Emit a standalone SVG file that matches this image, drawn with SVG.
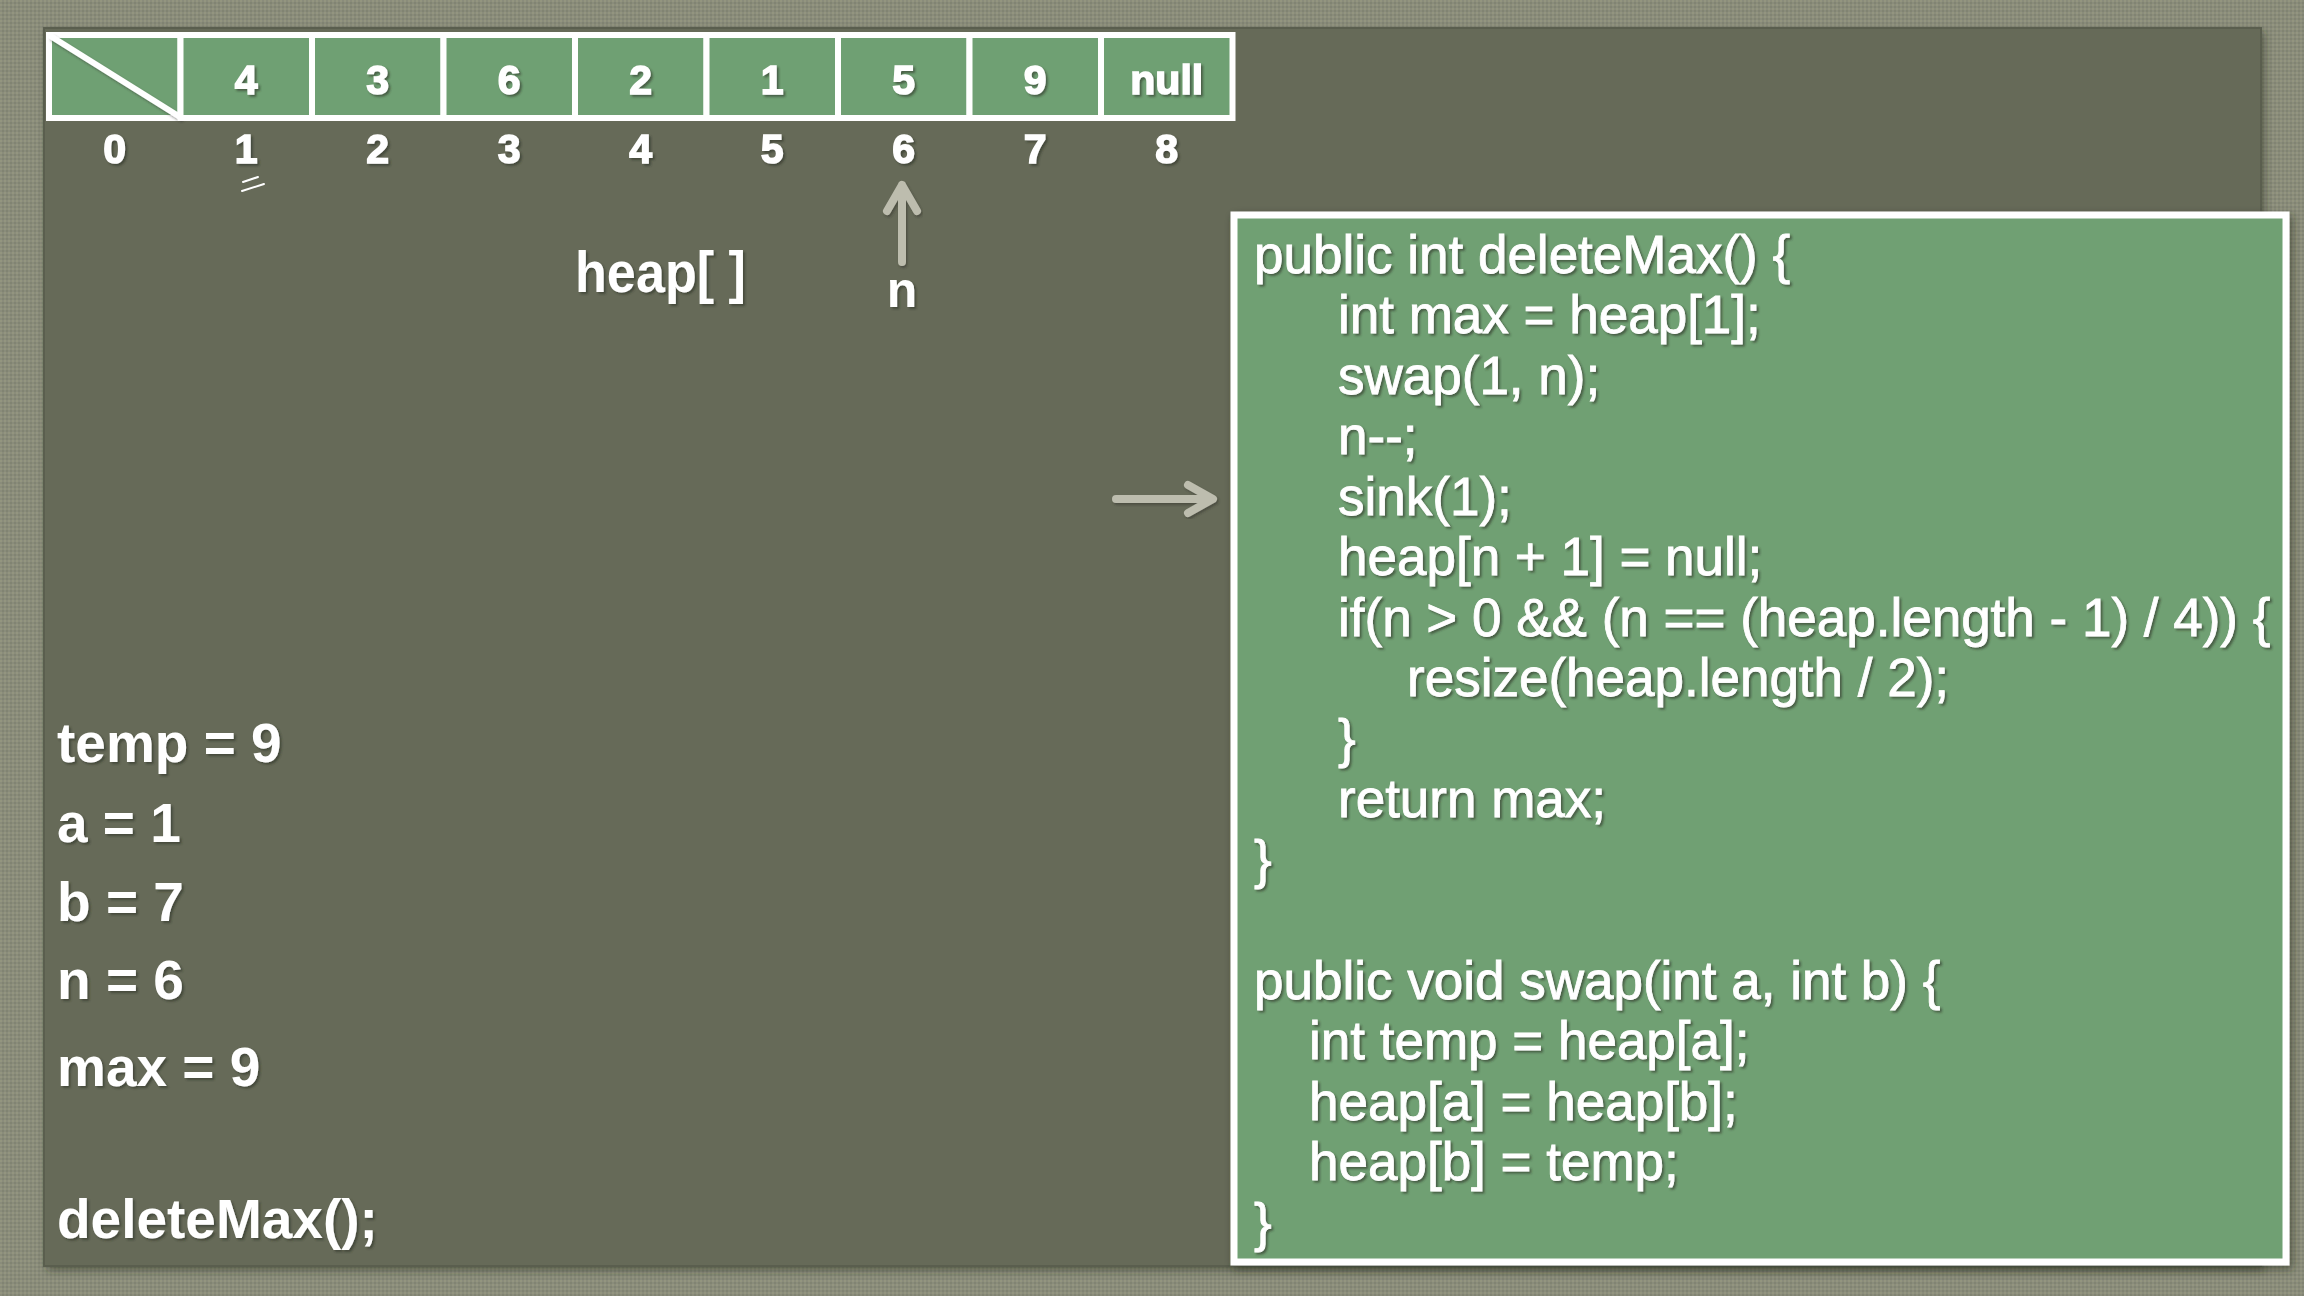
<svg xmlns="http://www.w3.org/2000/svg" width="2304" height="1296" viewBox="0 0 2304 1296">
  <defs>
    <pattern id="weave" width="4" height="4" patternUnits="userSpaceOnUse">
      <rect width="4" height="4" fill="#8a8c7b"/>
      <rect width="2" height="2" fill="#93957f"/>
      <rect x="2" y="2" width="2" height="2" fill="#818472"/>
    </pattern>
    <filter id="txtShadow" x="-10%" y="-20%" width="130%" height="150%">
      <feDropShadow dx="2" dy="2" stdDeviation="1.2" flood-color="#2e3328" flood-opacity="0.6"/>
    </filter>
    <filter id="boxShadow" x="-5%" y="-5%" width="110%" height="110%">
      <feDropShadow dx="3" dy="4" stdDeviation="4" flood-color="#2a2d24" flood-opacity="0.55"/>
    </filter>
    <filter id="lineShadow" x="-20%" y="-20%" width="140%" height="140%">
      <feDropShadow dx="1.5" dy="2" stdDeviation="1.2" flood-color="#2e3328" flood-opacity="0.5"/>
    </filter>
  </defs>
  <style>
    .cell { fill: #6fa073; stroke: #ffffff; stroke-width: 6; }
    .val { font-family: "Liberation Sans", Arial, sans-serif; font-weight: bold; font-size: 41px; fill: #ffffff; stroke: #ffffff; stroke-width: 1.5; text-anchor: middle; filter: url(#txtShadow); }
    .idx { font-family: "Liberation Sans", Arial, sans-serif; font-weight: bold; font-size: 41px; fill: #ffffff; stroke: #ffffff; stroke-width: 1.5; text-anchor: middle; filter: url(#txtShadow); }
    .label { font-family: "Liberation Sans", Arial, sans-serif; font-weight: bold; font-size: 57px; fill: #ffffff; filter: url(#txtShadow); }
    .ptr { font-family: "Liberation Sans", Arial, sans-serif; font-weight: bold; font-size: 50px; fill: #ffffff; text-anchor: middle; filter: url(#txtShadow); }
    .code { font-family: "Liberation Sans", Arial, sans-serif; font-size: 53px; fill: #ffffff; stroke: #ffffff; stroke-width: 0.8; filter: url(#txtShadow); white-space: pre; }
    .var { font-family: "Liberation Sans", Arial, sans-serif; font-weight: bold; font-size: 55px; fill: #ffffff; filter: url(#txtShadow); }
    .conn { fill: none; stroke: #bdbdae; stroke-width: 8; stroke-linecap: round; stroke-linejoin: round; filter: url(#lineShadow); }
  </style>

  <!-- textured backdrop and dark slate -->
  <rect width="2304" height="1296" fill="url(#weave)"/>
  <rect x="44" y="28" width="2217" height="1238" fill="#666a59" filter="url(#boxShadow)"/>
  <rect x="44" y="28" width="2217" height="1238" fill="none" stroke="#5a5e4e" stroke-width="2"/>

  <!-- heap array -->
  <g id="heap-array">
    <g id="cell-0">
      <rect class="cell" x="49" y="35" width="131.5" height="83"/>
      <line x1="52" y1="37" x2="180" y2="117" stroke="#ffffff" stroke-width="6" stroke-linecap="round" filter="url(#lineShadow)"/>
    </g>
    <g id="cell-1"><rect class="cell" x="180.5" y="35" width="131.5" height="83"/><text class="val" x="246.25" y="94">4</text></g>
    <g id="cell-2"><rect class="cell" x="312" y="35" width="131.5" height="83"/><text class="val" x="377.75" y="94">3</text></g>
    <g id="cell-3"><rect class="cell" x="443.5" y="35" width="131.5" height="83"/><text class="val" x="509.25" y="94">6</text></g>
    <g id="cell-4"><rect class="cell" x="575" y="35" width="131.5" height="83"/><text class="val" x="640.75" y="94">2</text></g>
    <g id="cell-5"><rect class="cell" x="706.5" y="35" width="131.5" height="83"/><text class="val" x="772.25" y="94">1</text></g>
    <g id="cell-6"><rect class="cell" x="838" y="35" width="131.5" height="83"/><text class="val" x="903.75" y="94">5</text></g>
    <g id="cell-7"><rect class="cell" x="969.5" y="35" width="131.5" height="83"/><text class="val" x="1035.25" y="94">9</text></g>
    <g id="cell-8"><rect class="cell" x="1101" y="35" width="131.5" height="83"/><text class="val" x="1166.75" y="94">null</text></g>
  </g>

  <!-- array indices -->
  <g id="indices">
    <text class="idx" x="114.75" y="163">0</text>
    <text class="idx" x="246.25" y="163">1</text>
    <text class="idx" x="377.75" y="163">2</text>
    <text class="idx" x="509.25" y="163">3</text>
    <text class="idx" x="640.75" y="163">4</text>
    <text class="idx" x="772.25" y="163">5</text>
    <text class="idx" x="903.75" y="163">6</text>
    <text class="idx" x="1035.25" y="163">7</text>
    <text class="idx" x="1166.75" y="163">8</text>
    <g stroke="#ffffff" stroke-width="2" stroke-linecap="round">
      <line x1="243" y1="182" x2="258" y2="177"/>
      <line x1="242" y1="191" x2="264" y2="184"/>
    </g>
  </g>

  <g id="heap-label">
    <text class="label" x="575" y="292" textLength="171" lengthAdjust="spacingAndGlyphs">heap[ ]</text>
  </g>

  <g id="pointer-n">
    <text class="ptr" x="902" y="307">n</text>
  </g>

  <!-- arrows -->
  <g id="connectors">
    <path class="conn" d="M902,262 L902,185 M887,211 L902,185 L917,211"/>
    <path class="conn" d="M1116,499 L1212,499 M1188,485 L1213,499 L1188,513"/>
  </g>

  <!-- source listing -->
  <g id="code-panel">
    <rect x="1234" y="215" width="1052" height="1047" fill="#6fa073" stroke="#ffffff" stroke-width="7" filter="url(#boxShadow)"/>
    <text class="code" x="1254" y="273">public int deleteMax() {</text>
    <text class="code" x="1338" y="333">int max = heap[1];</text>
    <text class="code" x="1338" y="394">swap(1, n);</text>
    <text class="code" x="1338" y="454">n--;</text>
    <text class="code" x="1338" y="515">sink(1);</text>
    <text class="code" x="1338" y="575">heap[n + 1] = null;</text>
    <text class="code" x="1338" y="636">if(n &gt; 0 &amp;&amp; (n == (heap.length - 1) / 4)) {</text>
    <text class="code" x="1407" y="696">resize(heap.length / 2);</text>
    <text class="code" x="1338" y="757">}</text>
    <text class="code" x="1338" y="817">return max;</text>
    <text class="code" x="1254" y="878">}</text>
    <text class="code" x="1254" y="999">public void swap(int a, int b) {</text>
    <text class="code" x="1309" y="1059">int temp = heap[a];</text>
    <text class="code" x="1309" y="1120">heap[a] = heap[b];</text>
    <text class="code" x="1309" y="1180">heap[b] = temp;</text>
    <text class="code" x="1254" y="1241">}</text>
  </g>

  <!-- current variable values -->
  <g id="variables">
    <text class="var" x="57" y="762">temp = 9</text>
    <text class="var" x="57" y="842">a = 1</text>
    <text class="var" x="57" y="921">b = 7</text>
    <text class="var" x="57" y="999">n = 6</text>
    <text class="var" x="57" y="1086">max = 9</text>
    <text class="var" x="57" y="1238">deleteMax();</text>
  </g>
</svg>
